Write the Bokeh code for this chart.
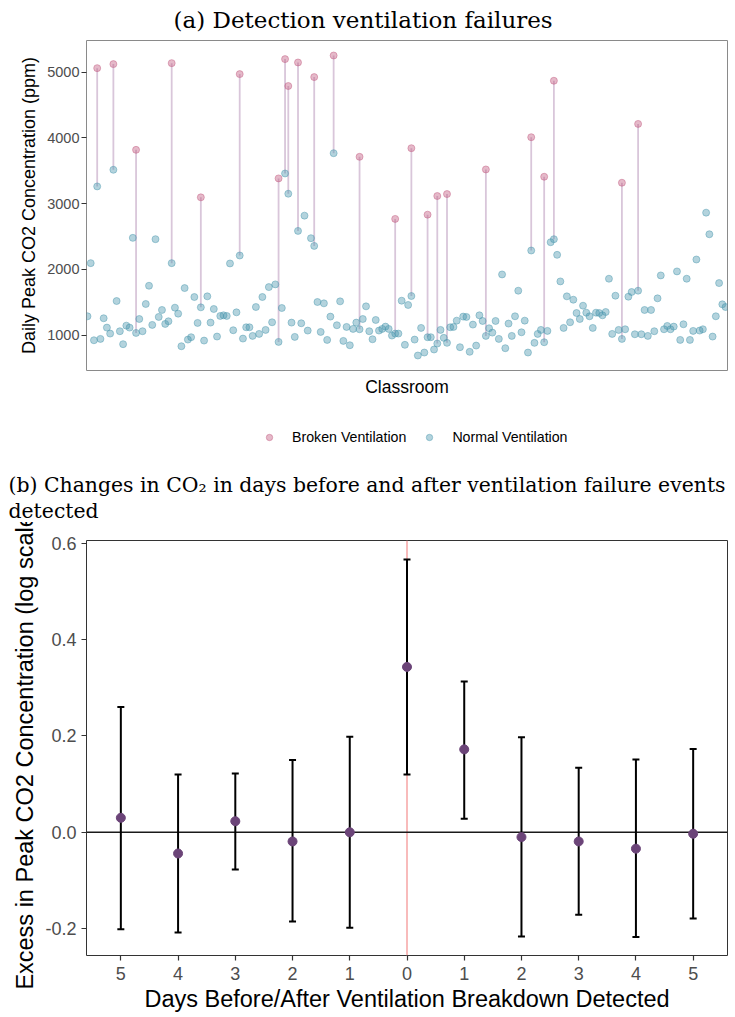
from bokeh.plotting import figure
from bokeh.models import (Legend, LegendItem, Title, Span, Whisker, ColumnDataSource,
                          FixedTicker, Range1d, TeeHead)
from bokeh.core.properties import value
from bokeh.layouts import column
from bokeh.embed import file_html
from bokeh.resources import INLINE

# ---------------- data: daily peak CO2 per classroom ----------------
normal_ppm = [
    1288, 2096, 924, 3262, 944, 1258, 1116, 1025, 3515, 1520,
    1061, 864, 1146, 1116, 2480, 1035, 1247, 1061, 1475, 1752,
    1157, 2460, 1278, 1384, 1172, 1212, 2096, 1419, 1328, 833,
    1717, 934, 970, 1581, 1187, 1424, 919, 1591, 1192, 1399,
    980, 1293, 1303, 1293, 2091, 1076, 1348, 2212, 949, 1121,
    1121, 990, 1429, 1020, 1581, 1081, 1732, 1197, 1773, 899,
    1414, 3459, 3151, 1192, 975, 2586, 1182, 2818, 1071, 2475,
    2358, 1505, 1050, 1485, 929, 1283, 3767, 1152, 1515, 914,
    1126, 848, 1096, 1192, 1091, 1247, 1439, 1061, 939, 1232,
    1071, 1096, 1131, 1096, 995, 1025, 1025, 1525, 854, 1460,
    1596, 934, 692, 1111, 737, 970, 970, 783, 874, 1081,
    960, 884, 1121, 1126, 1222, 818, 1283, 1278, 748, 1162,
    843, 1303, 1217, 990, 1106, 1040, 1217, 944, 1924, 803,
    1177, 990, 1288, 1677, 1045, 1222, 737, 2288, 884, 1020,
    1081, 894, 1066, 2414, 2460, 2222, 1818, 1111, 1591, 1197,
    1540, 1338, 1247, 1449, 1343, 1288, 1111, 1343, 1338, 1303,
    1353, 1859, 1020, 1601, 1081, 944, 1091, 1586, 1657, 1015,
    1677, 1015, 1384, 990, 1384, 1061, 1561, 1909, 1091, 1141,
    1091, 1131, 1970, 929, 1167, 1859, 929, 1066, 2151, 1071,
    1091, 2863, 2535, 980, 1288, 1793, 1470, 1429,
]
classroom = list(range(1, len(normal_ppm) + 1))

broken_classroom = [4, 9, 16, 27, 36, 48, 60, 62, 63, 66, 71, 77, 85, 96, 101,
                    106, 109, 112, 124, 138, 142, 145, 166, 171]
broken_ppm = [5060, 5121, 3818, 5136, 3096, 4969, 3384, 5197, 4788, 5146, 4924, 5252,
              3712, 2768, 3843, 2833, 3116, 3146, 3520, 4010, 3409, 4868, 3318, 4212]
broken_normal_ppm = [normal_ppm[c - 1] for c in broken_classroom]

# ---------------- data: event-study estimates ----------------
days = [-5, -4, -3, -2, -1, 0, 1, 2, 3, 4, 5]
day_labels = ["5", "4", "3", "2", "1", "0", "1", "2", "3", "4", "5"]
estimate = [0.030, -0.044, 0.023, -0.019, 0.000, 0.343, 0.172, -0.010, -0.019, -0.034, -0.003]
ci_lower = [-0.201, -0.208, -0.077, -0.185, -0.198, 0.120, 0.028, -0.216, -0.171, -0.217, -0.179]
ci_upper = [0.260, 0.120, 0.122, 0.150, 0.198, 0.566, 0.313, 0.197, 0.134, 0.151, 0.173]

SERIF = "DejaVu Serif"
SANS = "Liberation Sans"
PINK = "#C2587E"
BLUE = "#4A97AD"
PT_ALPHA = dict(fill_alpha=0.42, line_alpha=0.45)

# the stacked figures share their frame edges inside the column
BORDER_L = 86
BORDER_R = 8

# ---------------- panel (a) ----------------
pA = figure(width=735, height=400, output_backend="svg", toolbar_location=None,
            x_range=Range1d(0.7, 198.6), y_range=Range1d(464, 5480),
            min_border_left=BORDER_L, min_border_right=BORDER_R,
            min_border_top=40, min_border_bottom=30)
pA.add_layout(Title(text="(a) Detection ventilation failures", align="left", offset=87,
                    vertical_align="top", text_font=SERIF, text_font_size="23px",
                    text_font_style="normal", text_color="#000000", standoff=11), "above")

pA.segment(x0=broken_classroom, y0=broken_normal_ppm, x1=broken_classroom, y1=broken_ppm,
           line_color="#D9C6DA", line_width=1.8)
pA.scatter(classroom, normal_ppm, size=7, fill_color=BLUE, line_color=BLUE, **PT_ALPHA)
pA.scatter(broken_classroom, broken_ppm, size=7, fill_color=PINK, line_color=PINK, **PT_ALPHA)

pA.xgrid.visible = False
pA.ygrid.visible = False
pA.outline_line_color = "#8A8A8A"
pA.outline_line_width = 1

pA.xaxis.ticker = FixedTicker(ticks=[])
pA.xaxis.axis_line_color = None
pA.xaxis.major_tick_out = 0
pA.xaxis.major_tick_in = 0
pA.xaxis.minor_tick_out = 0
pA.xaxis.minor_tick_in = 0
pA.xaxis.major_label_standoff = 0
pA.xaxis.axis_label = "Classroom"
pA.xaxis.axis_label_standoff = 6
pA.xaxis.axis_label_text_font = SANS
pA.xaxis.axis_label_text_font_size = "17.5px"
pA.xaxis.axis_label_text_font_style = "normal"
pA.xaxis.axis_label_text_color = "#000000"

pA.yaxis.ticker = FixedTicker(ticks=[1000, 2000, 3000, 4000, 5000])
pA.yaxis.axis_line_color = None
pA.yaxis.major_tick_out = 5
pA.yaxis.major_tick_in = 0
pA.yaxis.minor_tick_out = 0
pA.yaxis.minor_tick_in = 0
pA.yaxis.major_tick_line_color = "#333333"
pA.yaxis.major_label_standoff = 2
pA.yaxis.major_label_text_font = SANS
pA.yaxis.major_label_text_font_size = "14.5px"
pA.yaxis.major_label_text_color = "#4D4D4D"
pA.yaxis.axis_label = "Daily Peak CO2 Concentration (ppm)"
pA.yaxis.axis_label_standoff = 5
pA.yaxis.axis_label_text_font = SANS
pA.yaxis.axis_label_text_font_size = "18px"
pA.yaxis.axis_label_text_font_style = "normal"
pA.yaxis.axis_label_text_color = "#000000"

# ---------------- key for panel (a) + heading of panel (b) ----------------
pK = figure(width=735, height=122, output_backend="svg", toolbar_location=None,
            x_range=Range1d(0, 1), y_range=Range1d(0, 1),
            x_axis_location=None, y_axis_location=None,
            min_border_left=BORDER_L, min_border_right=BORDER_R,
            min_border_top=0, min_border_bottom=0)
pK.xgrid.visible = False
pK.ygrid.visible = False
pK.outline_line_color = None
# key glyphs reuse the series styles; their points fall outside this strip's ranges
k_brok = pK.scatter(broken_classroom, broken_ppm, size=7, fill_color=PINK, line_color=PINK,
                    **PT_ALPHA)
k_norm = pK.scatter(classroom, normal_ppm, size=7, fill_color=BLUE, line_color=BLUE,
                    **PT_ALPHA)
key = Legend(items=[LegendItem(label=value("Broken Ventilation"), renderers=[k_brok]),
                    LegendItem(label=value("Normal Ventilation"), renderers=[k_norm])],
             orientation="horizontal", location=(175, 25),
             glyph_width=16, glyph_height=16, label_standoff=15, spacing=15,
             padding=0, margin=0, border_line_color=None, background_fill_alpha=0,
             label_text_font=SANS, label_text_font_size="14.2px", label_text_color="#000000")
pK.add_layout(key)
pK.add_layout(Title(text="(b) Changes in CO\u2082 in days before and after ventilation failure events",
                    align="left", offset=-78, text_font=SERIF, text_font_size="20.4px",
                    text_font_style="normal", text_color="#000000", standoff=0), "below")
pK.add_layout(Title(text="detected", align="left", offset=-78, text_font=SERIF,
                    text_font_size="20.4px", text_font_style="normal", text_color="#000000",
                    standoff=0), "below")

# ---------------- panel (b) ----------------
pB = figure(width=735, height=495, output_backend="svg", toolbar_location=None,
            x_range=Range1d(-5.6, 5.6), y_range=Range1d(-0.2556, 0.6053),
            min_border_left=BORDER_L, min_border_right=BORDER_R,
            min_border_top=18, min_border_bottom=62)

pB.add_layout(Span(location=0, dimension="height", line_color="#F6A4A4", line_width=1.5,
                   level="underlay"))
pB.add_layout(Span(location=0, dimension="width", line_color="#1A1A1A", line_width=1.5,
                   level="underlay"))

src = ColumnDataSource(dict(day=days, est=estimate, lo=ci_lower, hi=ci_upper))
pB.add_layout(Whisker(source=src, base="day", lower="lo", upper="hi", dimension="height",
                      line_color="#000000", line_width=2, level="underlay",
                      upper_head=TeeHead(size=7, line_color="#000000", line_width=2),
                      lower_head=TeeHead(size=7, line_color="#000000", line_width=2)))
pB.scatter("day", "est", source=src, size=9, fill_color="#6B4478", line_color="#6B4478")

pB.xgrid.visible = False
pB.ygrid.visible = False
pB.outline_line_color = "#333333"
pB.outline_line_width = 1

pB.xaxis.ticker = FixedTicker(ticks=days)
pB.xaxis.major_label_overrides = {d: lab for d, lab in zip(days, day_labels)}
pB.yaxis.ticker = FixedTicker(ticks=[-0.2, 0.0, 0.2, 0.4, 0.6])
pB.yaxis.major_label_overrides = {-0.2: "-0.2", 0.0: "0.0", 0.2: "0.2", 0.4: "0.4", 0.6: "0.6"}
for ax in (pB.xaxis[0], pB.yaxis[0]):
    ax.axis_line_color = None
    ax.major_tick_out = 5
    ax.major_tick_in = 0
    ax.minor_tick_out = 0
    ax.minor_tick_in = 0
    ax.major_tick_line_color = "#333333"
    ax.major_tick_line_width = 1.2
    ax.major_label_text_font = SANS
    ax.major_label_text_font_size = "18px"
    ax.major_label_text_color = "#4D4D4D"
    ax.axis_label_text_font = SANS
    ax.axis_label_text_font_size = "23.5px"
    ax.axis_label_text_font_style = "normal"
    ax.axis_label_text_color = "#000000"
pB.xaxis.major_label_standoff = 6
pB.xaxis.axis_label = "Days Before/After Ventilation Breakdown Detected"
pB.xaxis.axis_label_standoff = 3
pB.yaxis.major_label_standoff = 5
pB.yaxis.axis_label = "Excess in Peak CO2 Concentration (log scale)"
pB.yaxis.axis_label_standoff = 4

layout = column(pA, pK, pB, spacing=0)
open("out.html", "w").write(file_html(layout, INLINE))
